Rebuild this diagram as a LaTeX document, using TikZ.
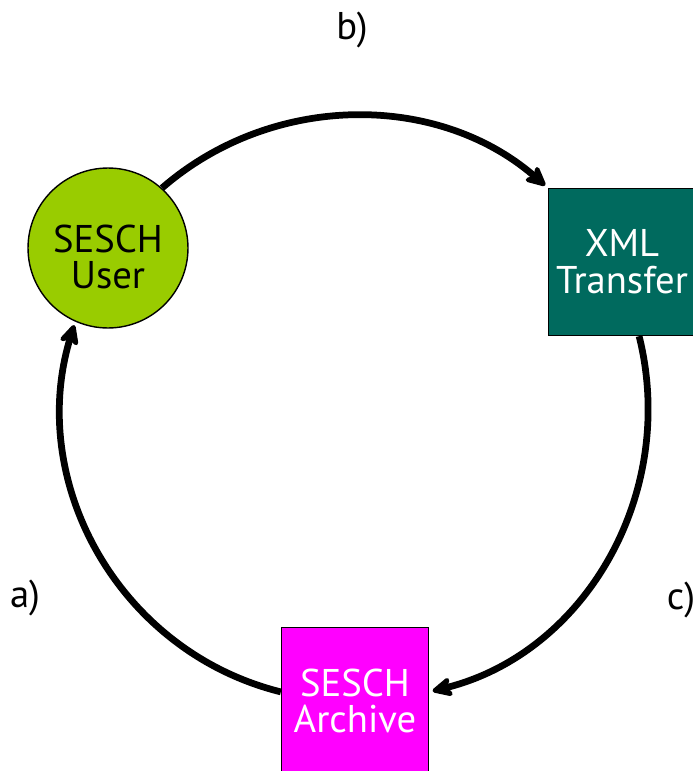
\documentclass[tikz,border=0pt]{standalone}
\usepackage{fontspec}
\setmainfont{PT Sans}
\definecolor{seschgreen}{RGB}{153,204,0}
\definecolor{xmlteal}{RGB}{0,106,94}
\definecolor{archmagenta}{RGB}{255,0,255}
\usetikzlibrary{arrows.meta,positioning}
\begin{document}
\begin{tikzpicture}[
  x=0.02cm, y=-0.02cm,
  every node/.style={font=\fontsize{22}{21}\selectfont},
  usernode/.style={draw,circle,fill=seschgreen,minimum size=3.2cm,inner sep=0pt,align=center,
                   line width=0.8pt,text height=1.64cm,text depth=0cm},
  boxnode/.style={draw,rectangle,minimum size=2.94cm,inner sep=0pt,align=center,text=white,line width=0.8pt},
  flow/.style={line width=0.135cm,-{Stealth[length=0.5cm,width=0.48cm,inset=0.14cm,round]},shorten >=2pt},
]
  \useasboundingbox (0,0) rectangle (693,771);
  % Nodes on the ring
  \node[usernode] (user) at (108,248) {SESCH\\User};
  \node[boxnode,fill=xmlteal] (xml) at (622,262) {XML\\Transfer};
  \node[boxnode,fill=archmagenta] (archive) at (355,701) {SESCH\\Archive};
  % Step labels
  \node (lb) at (352,30) {b)};
  \node (la) at (25,598) {a)};
  \node (lc) at (681,600) {c)};
  % Connectors
  \draw[flow] (user.48) to[out=41,in=139,looseness=0.97] (xml.north west);
  \draw[flow] (xml.-77) to[out=-76,in=14] (archive.7);
  \draw[flow] (archive.173) to[out=166,in=253,looseness=1.01] (user.-114);
\end{tikzpicture}
\end{document}
